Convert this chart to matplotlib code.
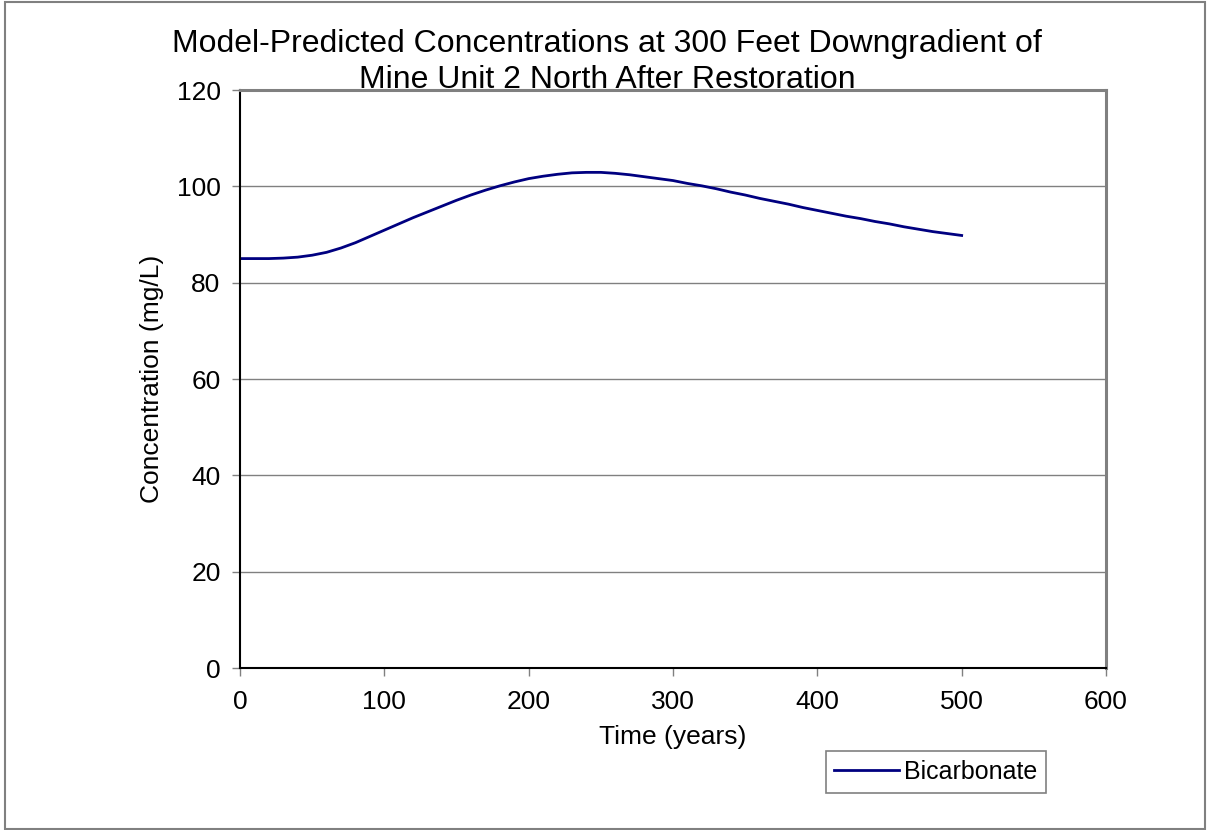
import matplotlib.pyplot as plt
from matplotlib.patches import Rectangle

plt.rcParams['font.family'] = ['Liberation Sans', 'DejaVu Sans']

### Model output, 10 year steps
time_yr = [0, 10, 20, 30, 40, 50, 60, 70, 80, 90,
           100, 110, 120, 130, 140, 150, 160, 170, 180, 190,
           200, 210, 220, 230, 240, 250, 260, 270, 280, 290,
           300, 310, 320, 330, 340, 350, 360, 370, 380, 390,
           400, 410, 420, 430, 440, 450, 460, 470, 480, 490, 500]
bicarbonate = [85.0, 85.0, 85.0, 85.1, 85.3, 85.7, 86.3, 87.2, 88.3, 89.6,
               90.9, 92.2, 93.5, 94.7, 95.9, 97.1, 98.2, 99.2, 100.1, 100.9,
               101.6, 102.1, 102.5, 102.8, 102.9, 102.9, 102.7, 102.4, 102.0, 101.6,
               101.2, 100.6, 100.1, 99.5, 98.8, 98.2, 97.5, 96.9, 96.3, 95.6,
               95.0, 94.4, 93.8, 93.3, 92.7, 92.2, 91.6, 91.1, 90.6, 90.2, 89.8]
xticks = [0, 100, 200, 300, 400, 500, 600]
yticks = [0, 20, 40, 60, 80, 100, 120]

W, H = 1207, 830
fig = plt.figure(figsize=(W / 100, H / 100), dpi=100)

# outer chart border
fig.patches.append(Rectangle((5 / W, 1 - 829 / H), 1200 / W, 827 / H,
                             transform=fig.transFigure, fill=False,
                             edgecolor='#808080', linewidth=1.5))

ax = fig.add_axes([240 / W, 1 - 668 / H, 866 / W, 578 / H])
ax.plot(time_yr, bicarbonate, color='#000080', linewidth=2.0, label='Bicarbonate')

ax.set_xlim(0, 600)
ax.set_ylim(0, 120)
ax.set_xticks(xticks)
ax.set_yticks(yticks)
ax.tick_params(direction='out', length=6, width=1, color='#808080',
               labelsize=19)
ax.tick_params(axis='x', pad=10)
ax.tick_params(axis='y', pad=8)
ax.yaxis.grid(True, color='#808080', linewidth=1)
ax.set_axisbelow(True)

for s in ['left', 'bottom']:
    ax.spines[s].set_color('black')
    ax.spines[s].set_linewidth(1.5)
for s in ['top', 'right']:
    ax.spines[s].set_color('#808080')
    ax.spines[s].set_linewidth(2.2)

ax.set_xlabel('Time (years)', fontsize=19, labelpad=8)
ax.set_ylabel('Concentration (mg/L)', fontsize=19, labelpad=9)

fig.text(607 / W, 1 - 52 / H, 'Model-Predicted Concentrations at 300 Feet Downgradient of',
         ha='center', va='baseline', fontsize=23)
fig.text(607 / W, 1 - 88 / H, 'Mine Unit 2 North After Restoration',
         ha='center', va='baseline', fontsize=23)

leg = ax.legend(loc='center', bbox_to_anchor=(936 / W, 1 - 772 / H),
                bbox_transform=fig.transFigure, fontsize=18, fancybox=False,
                framealpha=1, edgecolor='#808080', handlelength=2.6,
                borderpad=0.35, handletextpad=0.2)
leg.get_frame().set_linewidth(1.2)

fig.savefig('out.png', dpi=100)
